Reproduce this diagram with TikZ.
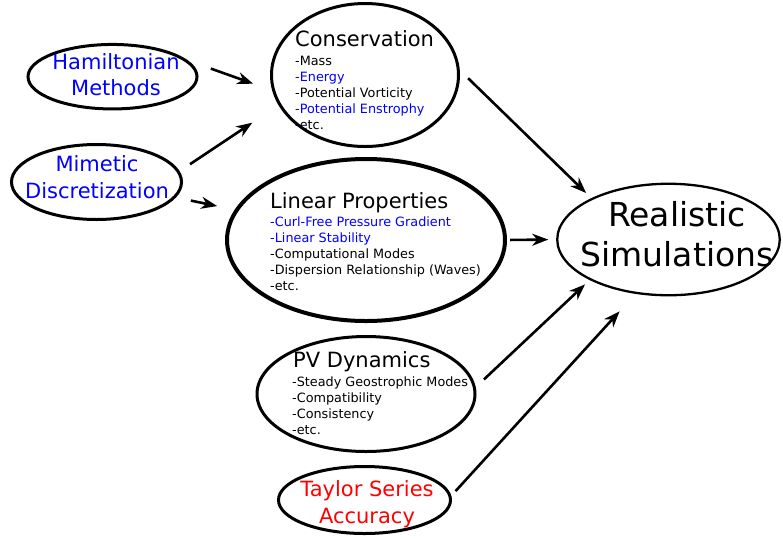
\documentclass[tikz,border=0pt]{standalone}
\usepackage{fontspec}
\setmainfont{DejaVu Sans}
\usetikzlibrary{shapes.geometric,arrows.meta}

\tikzset{
  oval/.style={ellipse, draw, line width=3pt, inner sep=0pt, outer sep=0pt},
  lbl/.style={align=center, anchor=base, inner sep=0pt},
  title/.style={anchor=base west, inner sep=0pt, font=\fontsize{21}{24}\selectfont},
  item/.style={anchor=base west, inner sep=0pt, font=\fontsize{12.8}{16}\selectfont},
  arr/.style={-{Stealth[length=16pt,width=12pt,inset=5pt]}, line width=2.6pt},
}

\begin{document}
\begin{tikzpicture}[x=1pt,y=-1pt]
  \useasboundingbox (0,0) rectangle (783,539);

  % the ellipses
  \node[oval, minimum width=169pt, minimum height=64.5pt] (ham) at (112.5,76.7) {};
  \node[oval, minimum width=170pt, minimum height=75pt] (mim) at (96.5,182) {};
  \node[oval, minimum width=187pt, minimum height=143pt] (cons) at (365,75) {};
  \node[oval, line width=4pt, minimum width=278pt, minimum height=162pt] (lin) at (366,240) {};
  \node[oval, minimum width=218pt, minimum height=115pt] (pv) at (366,394) {};
  \node[oval, minimum width=172pt, minimum height=67pt] (tay) at (364.5,500) {};
  \node[oval, line width=2.3pt, minimum width=222.5pt, minimum height=111.5pt] (real) at (668.5,239.5) {};

  % short labels (placed by the baseline of their last line)
  \node[lbl, text=blue, font=\fontsize{21}{26.5}\selectfont] (ham-txt) at (116,95.7) {Hamiltonian\\Methods};
  \node[lbl, text=blue, font=\fontsize{21}{26.5}\selectfont] (mim-txt) at (97,198.3) {Mimetic\\Discretization};
  \node[lbl, text=red, font=\fontsize{21}{26.5}\selectfont] (tay-txt) at (367,523.3) {Taylor Series\\Accuracy};
  \node[lbl, font=\fontsize{33}{40.5}\selectfont] (real-txt) at (677,266.5) {Realistic\\Simulations};

  % properties with their lists
  \node[title] (cons-title) at (295,46.7) {Conservation};
  \foreach \txt/\col [count=\i from 0] in {-Mass/black, -Energy/blue,
      -Potential Vorticity/black, -Potential Enstrophy/blue, -etc./black}
    \node[item, text=\col] (cons-\i) at (295,65+16*\i) {\txt};

  \node[title] (lin-title) at (270,208.3) {Linear Properties};
  \foreach \txt/\col [count=\i from 0] in {-Curl-Free Pressure Gradient/blue,
      -Linear Stability/blue, -Computational Modes/black,
      -Dispersion Relationship (Waves)/black, -etc./black}
    \node[item, text=\col] (lin-\i) at (270,226+16*\i) {\txt};

  \node[title] (pv-title) at (293,367.5) {PV Dynamics};
  \foreach \txt [count=\i from 0] in {-Steady Geostrophic Modes,
      -Compatibility, -Consistency, -etc.}
    \node[item] (pv-\i) at (292,386.5+16*\i) {\txt};

  % arrows
  \draw[arr, shorten <=31pt, shorten >=22pt] (ham.15) -- (cons.190);
  \draw[arr, shorten <=14pt, shorten >=33pt] (mim.7) -- (cons.199);
  \draw[arr, shorten <=17pt, shorten >=20pt] (mim.349) -- (lin.167);
  \draw[arr, shorten <=14pt, shorten >=8.5pt] (cons.4) -- (real.152);
  \draw[arr, shorten <=5pt, shorten >=9pt] (lin.east) -- (real.west);
  \draw[arr, shorten <=13pt, shorten >=7.5pt] (pv.3) -- (real.207);
  \draw[arr, shorten <=8pt, shorten >=25pt] (tay.2) -- (real.239);
\end{tikzpicture}
\end{document}
